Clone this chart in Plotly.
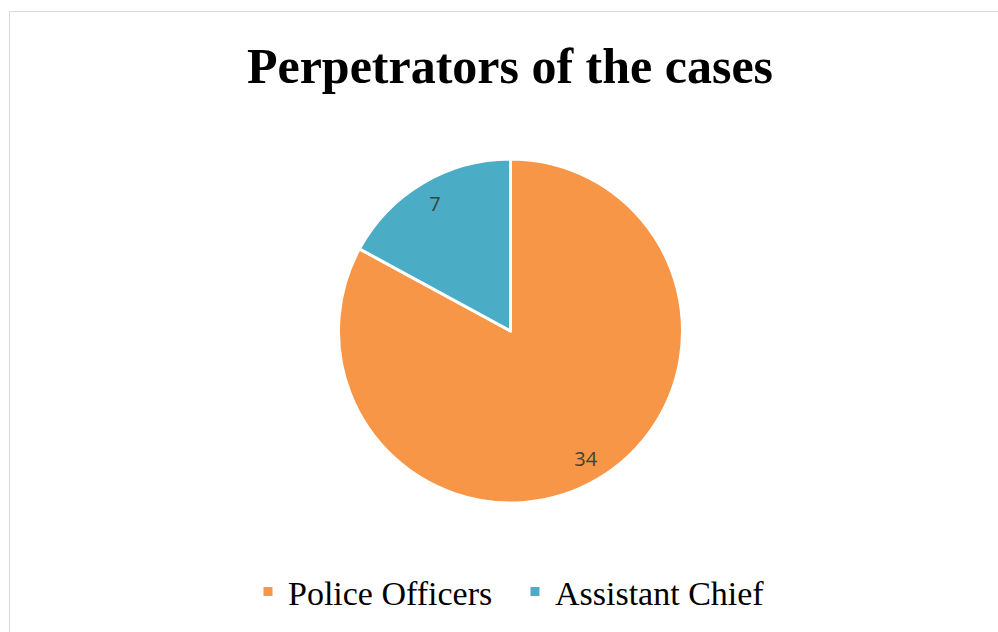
import plotly.graph_objects as go

categories = ["Police Officers", "Assistant Chief"]
values = [34, 7]
colors = ["#F79646", "#4BACC6"]
title_text = "Perpetrators of the cases"

W, H = 998, 632
dom = dict(x=[338 / W, 683 / W], y=[1 - 503 / H, 1 - 159 / H])

fig = go.Figure()
fig.add_trace(go.Pie(
    labels=categories,
    values=values,
    sort=False,
    direction="clockwise",
    rotation=0,
    marker=dict(colors=colors, line=dict(color="white", width=3)),
    textinfo="none",
    domain=dom,
    hoverinfo="label+value",
))
# transparent ring overlay used only to place the value labels near the rim
fig.add_trace(go.Pie(
    labels=categories,
    values=values,
    sort=False,
    direction="clockwise",
    rotation=0,
    hole=0.72,
    marker=dict(colors=["rgba(0,0,0,0)"] * len(values), line=dict(width=0)),
    textinfo="value",
    textposition="inside",
    insidetextorientation="horizontal",
    textfont=dict(family="Open Sans", size=20, color="#404040"),
    domain=dom,
    showlegend=False,
    hoverinfo="skip",
))

fig.update_layout(
    width=W, height=H,
    margin=dict(l=0, r=0, t=0, b=0),
    paper_bgcolor="white",
    title=dict(text="<b>" + title_text + "</b>", x=0.511, xanchor="center",
               y=1 - 65 / H, yanchor="middle",
               font=dict(family="Liberation Serif", size=50, color="black")),
    legend=dict(orientation="h", x=0.516, xanchor="center", y=1 - 592 / H, yanchor="middle",
                font=dict(family="Liberation Serif", size=34, color="black"),
                itemwidth=30, traceorder="normal", entrywidth=222),
    shapes=[dict(type="rect", xref="paper", yref="paper",
                 x0=9.5 / W, x1=1.01, y0=-0.01, y1=1 - 11.5 / H,
                 line=dict(color="#D9D9D9", width=1), fillcolor="rgba(0,0,0,0)", layer="below")],
)

fig.write_html("out.html")
